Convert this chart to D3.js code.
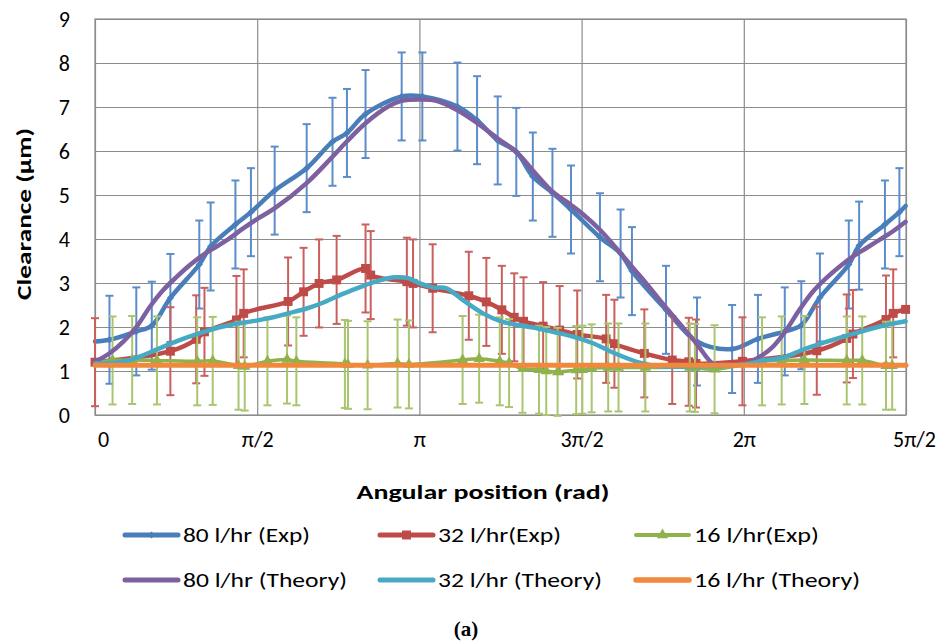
<!DOCTYPE html>
<html>
<head>
<meta charset="utf-8">
<script src="https://cdn.jsdelivr.net/npm/d3@7"></script>
<style>
  body { margin: 0; background: #fff; }
  svg { display: block; }
  text { font-family: Calibri, Carlito, Lato, "Open Sans", sans-serif; fill: #000; }
</style>
</head>
<body>
<svg id="chart" width="946" height="643"></svg>
<script>
const PI = Math.PI;

// Axis ticks
const xTickValues = [0, PI / 2, PI, 3 * PI / 2, 2 * PI, 5 * PI / 2];
const xTickLabels = ["0", "π/2", "π", "3π/2", "2π", "5π/2"];
const yTickValues = [0, 1, 2, 3, 4, 5, 6, 7, 8, 9];

// 80 l/hr measured clearance (rad, µm, ± error)
const exp80Theta = [0, 0.14, 0.40, 0.55, 0.73, 1.01, 1.12, 1.36, 1.51, 1.74, 2.05, 2.30, 2.44, 2.62, 2.97, 3.17,
  3.51, 3.70, 3.90, 4.08, 4.24, 4.43, 4.61, 4.89, 5.09, 5.20, 5.53, 5.83, 6.17, 6.42, 6.68, 6.84, 7.02, 7.30,
  7.40, 7.65, 7.79, 7.85];
const exp80Value = [1.67, 1.71, 1.90, 2.03, 2.66, 3.42, 3.83, 4.33, 4.61, 5.10, 5.61, 6.21, 6.41, 6.84, 7.24, 7.24,
  7.01, 6.70, 6.24, 5.98, 5.42, 5.05, 4.67, 4.04, 3.67, 3.27, 2.39, 1.67, 1.50, 1.73, 1.90, 2.04, 2.67, 3.42,
  3.85, 4.33, 4.61, 4.75];
const exp80Err = [0, 1, 1, 1, 1, 1, 1, 1, 1, 1, 1, 1, 1, 1, 1, 1, 1, 1, 1, 1, 1, 1, 1, 1, 1, 1, 1, 1, 1, 1, 1, 1,
  1, 1, 1, 1, 1, 0];

// 32 l/hr measured clearance
const exp32Theta = [0, 0.73, 0.98, 1.06, 1.37, 1.44, 1.87, 2.02, 2.17, 2.34, 2.62, 2.67, 3.02, 3.08, 3.27, 3.62,
  3.79, 3.94, 4.06, 4.15, 4.34, 4.50, 4.67, 4.95, 5.03, 5.32, 5.59, 5.75, 5.82, 6.27, 6.99, 7.28, 7.34, 7.66,
  7.73, 7.85];
const exp32Value = [1.20, 1.45, 1.72, 1.89, 2.16, 2.31, 2.58, 2.80, 2.99, 3.07, 3.33, 3.18, 3.03, 2.99, 2.88, 2.71,
  2.57, 2.39, 2.22, 2.13, 2.02, 1.93, 1.83, 1.73, 1.62, 1.40, 1.25, 1.21, 1.17, 1.22, 1.46, 1.74, 1.84, 2.17,
  2.31, 2.40];
const exp32Err = [1, 1, 1, 1, 1, 1, 1, 1, 1, 1, 1, 1, 1, 1, 1, 1, 1, 1, 1, 1, 1, 1, 1, 1, 1, 1, 1, 1, 1, 1, 1, 1,
  1, 1, 1, 0];

// 16 l/hr measured clearance
const exp16Theta = [0, 0.17, 0.36, 0.60, 0.99, 1.14, 1.39, 1.45, 1.67, 1.86, 1.95, 2.42, 2.45, 2.64, 2.93, 3.04,
  3.56, 3.72, 3.92, 4.01, 4.14, 4.30, 4.37, 4.48, 4.66, 4.72, 4.81, 4.97, 5.07, 5.33, 5.76, 5.81, 6.00, 6.46,
  6.65, 6.87, 7.28, 7.43, 7.66, 7.72, 7.85];
const exp16Value = [1.20, 1.24, 1.25, 1.24, 1.22, 1.23, 1.12, 1.10, 1.22, 1.26, 1.22, 1.16, 1.14, 1.13, 1.17, 1.15,
  1.25, 1.28, 1.22, 1.18, 1.05, 1.03, 1.00, 0.98, 1.02, 1.03, 1.06, 1.08, 1.08, 1.08, 1.08, 1.07, 1.04, 1.22,
  1.24, 1.25, 1.24, 1.24, 1.12, 1.12, 1.15];
const exp16Err = [0, 1, 1, 1, 1, 1, 1, 1, 1, 1, 1, 1, 1, 1, 1, 1, 1, 1, 1, 1, 1, 1, 1, 1, 1, 1, 1, 1, 1, 1, 1, 1,
  1, 1, 1, 1, 1, 1, 1, 1, 0];

// 80 l/hr theoretical clearance
const th80Theta = [0, 0.145, 0.274, 0.404, 0.532, 0.661, 0.791, 0.919, 1.048, 1.178, 1.306, 1.435, 1.580, 1.742,
  2.049, 2.300, 2.436, 2.620, 2.838, 2.968, 3.162, 3.307, 3.506, 3.704, 3.897, 4.081, 4.236, 4.429, 4.607, 4.723,
  4.894, 5.093, 5.200, 5.339, 5.523, 5.661, 5.823, 5.981, 6.049, 6.281, 6.435, 6.564, 6.694, 6.822, 6.951, 7.081,
  7.209, 7.338, 7.468, 7.596, 7.725, 7.850];
const th80Value = [1.21, 1.41, 1.67, 2.01, 2.46, 2.84, 3.14, 3.41, 3.64, 3.83, 4.02, 4.24, 4.47, 4.70,
  5.27, 5.87, 6.21, 6.63, 7.01, 7.14, 7.17, 7.14, 6.93, 6.63, 6.29, 5.98, 5.57, 5.08, 4.78, 4.57,
  4.20, 3.67, 3.37, 2.99, 2.46, 2.08, 1.63, 1.17, 1.15, 1.15, 1.32, 1.55, 1.93, 2.39, 2.80, 3.11,
  3.37, 3.60, 3.79, 3.98, 4.17, 4.39];

// 32 l/hr theoretical clearance
const th32Theta = [0, 0.194, 0.368, 0.600, 0.794, 1.016, 1.239, 1.548, 1.742, 1.871, 2.049, 2.194, 2.388, 2.581,
  2.775, 2.903, 3.032, 3.145, 3.274, 3.404, 3.564, 3.758, 3.919, 4.081, 4.242, 4.435, 4.629, 4.822, 5.016, 5.274,
  5.468, 5.855, 6.281, 6.500, 6.661, 6.871, 7.081, 7.306, 7.597, 7.850];
const th32Value = [1.17, 1.19, 1.27, 1.49, 1.68, 1.86, 2.01, 2.14, 2.23, 2.31, 2.42, 2.54, 2.74, 2.92,
  3.07, 3.13, 3.11, 2.99, 2.90, 2.88, 2.61, 2.31, 2.14, 2.05, 1.99, 1.89, 1.78, 1.63, 1.42, 1.19,
  1.11, 1.11, 1.15, 1.25, 1.30, 1.50, 1.66, 1.82, 2.01, 2.13];

// 16 l/hr theoretical clearance
const th16Theta = [0, 1.571, 3.142, 4.712, 6.283, 7.854];
const th16Value = [1.13, 1.13, 1.13, 1.13, 1.13, 1.13];

const series = [
  { name: "80 l/hr (Exp)", theta: exp80Theta, value: exp80Value, err: exp80Err,
    color: "#4a7ebb", barColor: "#5b8dcb", marker: "diamond", width: 4.5, labelLen: 127 },
  { name: "32 l/hr(Exp)", theta: exp32Theta, value: exp32Value, err: exp32Err,
    color: "#be4b48", barColor: "#c9605d", marker: "square", width: 4.5, labelLen: 123 },
  { name: "16 l/hr(Exp)", theta: exp16Theta, value: exp16Value, err: exp16Err,
    color: "#8fb24c", barColor: "#a9c66f", marker: "triangle", width: 3.5, labelLen: 125 },
  { name: "80 l/hr (Theory)", theta: th80Theta, value: th80Value, err: null,
    color: "#7d60a0", marker: null, width: 4.5, labelLen: 164 },
  { name: "32 l/hr (Theory)", theta: th32Theta, value: th32Value, err: null,
    color: "#46aac5", marker: null, width: 4.5, labelLen: 164 },
  { name: "16 l/hr (Theory)", theta: th16Theta, value: th16Value, err: null,
    color: "#f0893c", marker: null, width: 5, labelLen: 166 }
];

const svg = d3.select("#chart");
svg.append("rect").attr("width", 946).attr("height", 643).attr("fill", "#fff");

const plot = { left: 95, right: 906, top: 19, bottom: 415 };
const x = d3.scaleLinear().domain([0, 5 * PI / 2]).range([plot.left, plot.right]);
const y = d3.scaleLinear().domain([0, 9]).range([plot.bottom, plot.top]);

const gridColor = "#8c8c8c";

// Gridlines
const gx = svg.append("g").attr("transform", `translate(0,${plot.bottom})`)
  .call(d3.axisBottom(x).tickValues(xTickValues).tickSize(-(plot.bottom - plot.top)).tickFormat(""));
const gy = svg.append("g").attr("transform", `translate(${plot.left},0)`)
  .call(d3.axisLeft(y).tickValues(yTickValues).tickSize(-(plot.right - plot.left)).tickFormat(""));
[gx, gy].forEach(g => {
  g.select(".domain").remove();
  g.selectAll("line").attr("stroke", gridColor).attr("stroke-width", 1.2);
});
svg.append("rect")
  .attr("x", plot.left).attr("y", plot.top)
  .attr("width", plot.right - plot.left).attr("height", plot.bottom - plot.top)
  .attr("fill", "none").attr("stroke", gridColor).attr("stroke-width", 1.2);

// Tick labels
const ly = svg.append("g").attr("transform", `translate(${plot.left},0)`)
  .call(d3.axisLeft(y).tickValues(yTickValues).tickSize(0).tickPadding(25));
const lx = svg.append("g").attr("transform", `translate(0,${plot.bottom})`)
  .call(d3.axisBottom(x).tickValues(xTickValues).tickSize(0).tickPadding(16)
    .tickFormat((d, i) => xTickLabels[i]));
[lx, ly].forEach(g => {
  g.select(".domain").remove();
  g.selectAll("text").style("font-size", "22px").attr("fill", "#000");
});
lx.selectAll("text").attr("dx", (d, i) => (i === 0 || i === xTickValues.length - 1) ? 8 : 0);

// Axis titles
svg.append("text")
  .attr("transform", "translate(31,214) rotate(-90)")
  .attr("text-anchor", "middle")
  .attr("textLength", 172).attr("lengthAdjust", "spacingAndGlyphs")
  .style("font-size", "21px").style("font-weight", "bold")
  .text("Clearance (µm)");
svg.append("text")
  .attr("x", 483).attr("y", 499)
  .attr("text-anchor", "middle")
  .attr("textLength", 253).attr("lengthAdjust", "spacingAndGlyphs")
  .style("font-size", "21px").style("font-weight", "bold")
  .text("Angular position (rad)");

// Series
const line = d3.line().x(d => x(d[0])).y(d => y(d[1])).curve(d3.curveCatmullRom.alpha(0.5));

function markerPath(type) {
  if (type === "diamond") return d3.symbol(d3.symbolSquare, 26)();
  if (type === "square") return d3.symbol(d3.symbolSquare, 80)();
  if (type === "triangle") return d3.symbol(d3.symbolTriangle, 55)();
  return null;
}
function markerTransform(type, px, py) {
  return type === "diamond" ? `translate(${px},${py}) rotate(45)` : `translate(${px},${py})`;
}

const capHalf = 4;
series.forEach(s => {
  const pts = s.theta.map((t, i) => [t, s.value[i], s.err ? s.err[i] : 0]);
  const g = svg.append("g");
  if (s.err) {
    const bars = g.append("g").attr("stroke", s.barColor).attr("stroke-width", 2).attr("fill", "none");
    pts.filter(p => p[2] > 0).forEach(p => {
      const px = x(p[0]), top = y(p[1] + p[2]), bot = y(p[1] - p[2]);
      bars.append("line").attr("x1", px).attr("x2", px).attr("y1", top).attr("y2", bot);
      bars.append("line").attr("x1", px - capHalf).attr("x2", px + capHalf).attr("y1", top).attr("y2", top);
      bars.append("line").attr("x1", px - capHalf).attr("x2", px + capHalf).attr("y1", bot).attr("y2", bot);
    });
  }
  g.append("path").datum(pts).attr("d", line)
    .attr("fill", "none").attr("stroke", s.color).attr("stroke-width", s.width)
    .attr("stroke-linejoin", "round").attr("stroke-linecap", "round");
  if (s.marker) {
    g.selectAll(".mk").data(pts.filter(p => p[2] > 0 || s.marker === "square"))
      .enter().append("path")
      .attr("d", markerPath(s.marker))
      .attr("transform", p => markerTransform(s.marker, x(p[0]), y(p[1])))
      .attr("fill", s.color);
  }
});

// Legend
const legendCols = [125, 380, 636];
const legendRows = [535, 580];
series.forEach((s, i) => {
  const lx0 = legendCols[i % 3], ly0 = legendRows[Math.floor(i / 3)];
  const g = svg.append("g");
  g.append("line").attr("x1", lx0).attr("x2", lx0 + 53).attr("y1", ly0).attr("y2", ly0)
    .attr("stroke", s.color).attr("stroke-width", s.width + 0.5).attr("stroke-linecap", "round");
  if (s.marker) {
    g.append("path").attr("d", markerPath(s.marker))
      .attr("transform", markerTransform(s.marker, lx0 + 26.5, ly0)).attr("fill", s.color);
  }
  g.append("text").attr("x", lx0 + 58).attr("y", ly0).attr("dy", "0.35em")
    .attr("textLength", s.labelLen).attr("lengthAdjust", "spacingAndGlyphs")
    .style("font-size", "21px").text(s.name);
});

// Panel label
svg.append("text")
  .attr("x", 466).attr("y", 636).attr("text-anchor", "middle")
  .style("font-family", "'Liberation Serif', 'Times New Roman', serif")
  .style("font-size", "21px").style("font-weight", "bold")
  .text("(a)");
</script>
</body>
</html>
